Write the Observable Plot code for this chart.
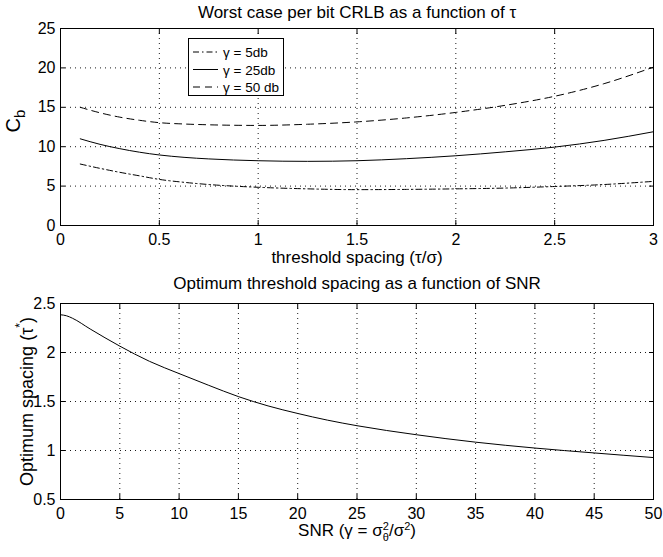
<!DOCTYPE html>
<html>
<head>
<meta charset="utf-8">
<script src="https://cdn.jsdelivr.net/npm/d3@7"></script>
<script src="https://cdn.jsdelivr.net/npm/@observablehq/plot@0.6"></script>
<style>
  body { margin: 0; background: #fff; }
  #wrap { position: relative; width: 663px; }
  #wrap > svg { display: block; }
</style>
</head>
<body>
<div id="wrap"></div>
<script>
// ---------- data ----------
const tau   = [0.1, 0.2, 0.3, 0.4, 0.5, 0.625, 0.75, 1.0, 1.25, 1.5, 1.75, 2.0, 2.25, 2.5, 2.75, 3.0];
const cb5   = [7.8, 7.25, 6.75, 6.3, 5.85, 5.48, 5.2, 4.85, 4.65, 4.55, 4.58, 4.65, 4.75, 4.95, 5.2, 5.6];
const cb25  = [11.0, 10.3, 9.75, 9.3, 8.95, 8.65, 8.45, 8.22, 8.14, 8.22, 8.48, 8.85, 9.35, 9.95, 10.8, 11.9];
const cb50  = [15.0, 14.3, 13.75, 13.35, 13.05, 12.88, 12.78, 12.7, 12.85, 13.15, 13.65, 14.35, 15.25, 16.4, 18.0, 20.1];
const seriesNames = ["γ = 5db", "γ = 25db", "γ = 50 db"];

const snr    = [0, 0.5, 1, 2.5, 5, 7.5, 10, 12.5, 15, 17.5, 20, 22.5, 25, 30, 35, 40, 45, 50];
const tauOpt = [2.385, 2.375, 2.35, 2.24, 2.065, 1.91, 1.785, 1.665, 1.55, 1.455, 1.378, 1.31, 1.253, 1.161, 1.085, 1.025, 0.975, 0.928];

const xTicksTop = [0, 0.5, 1, 1.5, 2, 2.5, 3];
const yTicksTop = [0, 5, 10, 15, 20, 25];
const xTicksBot = [0, 5, 10, 15, 20, 25, 30, 35, 40, 45, 50];
const yTicksBot = [0.5, 1, 1.5, 2, 2.5];

const titleTop = "Worst case per bit CRLB as a function of τ";
const xLabelTop = "threshold spacing (τ/σ)";
const yLabelTop = "C_b";
const titleBot = "Optimum threshold spacing as a function of SNR";
const xLabelBot = "SNR_LABEL";
const yLabelBot = "OPT_LABEL";

// ---------- styles ----------
const FONT = '"Liberation Sans", Arial, Helvetica, sans-serif';
const dashes = ["6,3,1.5,3", null, "7,5"];
const gridStyle = {stroke: "black", strokeOpacity: 0.9, strokeWidth: 1, strokeDasharray: "1,4"};

const rows = [cb5, cb25, cb50].map((vals, k) => tau.map((t, i) => ({x: t, y: vals[i], s: seriesNames[k]})));

function commonAxes(xt, yt) {
  return [
    Plot.frame({stroke: "black"}),
    Plot.axisX(xt, {anchor: "bottom", tickSize: -5, tickPadding: 13, fontSize: 16, label: null, tickFormat: d => String(d)}),
    Plot.axisX(xt, {anchor: "top", tickSize: -5, fill: "none", label: null}),
    Plot.axisY(yt, {anchor: "left", tickSize: -5, tickPadding: 10, fontSize: 16, label: null, tickFormat: d => String(d)}),
    Plot.axisY(yt, {anchor: "right", tickSize: -5, fill: "none", label: null})
  ];
}

const chartTop = Plot.plot({
  width: 663, height: 270,
  marginLeft: 60, marginRight: 10, marginTop: 28, marginBottom: 45,
  style: {fontFamily: FONT, background: "white", color: "black"},
  x: {domain: [0, 3]},
  y: {domain: [0, 25]},
  marks: [
    Plot.gridX(xTicksTop, gridStyle),
    Plot.gridY(yTicksTop, gridStyle),
    ...rows.map((r, k) => Plot.line(r, {x: "x", y: "y", stroke: "black", strokeWidth: 1, strokeDasharray: dashes[k], curve: "monotone-x"})),
    ...commonAxes(xTicksTop, yTicksTop),
    Plot.text([titleTop], {text: d => d, frameAnchor: "top", dy: -11, lineAnchor: "bottom", fontSize: 17}),
    Plot.text([xLabelTop], {text: d => d, frameAnchor: "bottom", dy: 37, lineAnchor: "bottom", fontSize: 17}),
    Plot.text([yLabelTop], {text: d => d, frameAnchor: "left", textAnchor: "middle", dx: -41, dy: -6, rotate: -90, lineAnchor: "bottom", fontSize: 20})
  ]
});

const botRows = snr.map((s, i) => ({x: s, y: tauOpt[i]}));
const chartBot = Plot.plot({
  width: 663, height: 287,
  marginLeft: 60, marginRight: 10, marginTop: 33, marginBottom: 58,
  style: {fontFamily: FONT, background: "white", color: "black"},
  x: {domain: [0, 50]},
  y: {domain: [0.5, 2.5]},
  marks: [
    Plot.gridX(xTicksBot, gridStyle),
    Plot.gridY(yTicksBot, gridStyle),
    Plot.line(botRows, {x: "x", y: "y", stroke: "black", strokeWidth: 1, curve: "monotone-x"}),
    ...commonAxes(xTicksBot, yTicksBot),
    Plot.text([titleBot], {text: d => d, frameAnchor: "top", dy: -15, lineAnchor: "bottom", fontSize: 17}),
    Plot.text([xLabelBot], {text: d => d, frameAnchor: "bottom", dy: 36, lineAnchor: "bottom", fontSize: 17}),
    Plot.text([yLabelBot], {text: d => d, frameAnchor: "left", textAnchor: "middle", dx: -28, rotate: -90, lineAnchor: "bottom", fontSize: 18})
  ]
});

const wrap = document.getElementById("wrap");
wrap.appendChild(chartTop);
wrap.appendChild(chartBot);

// ---------- rich text (sub/superscripts) ----------
function rich(svg, placeholder, parts) {
  d3.select(svg).selectAll("text").filter(function () { return this.textContent === placeholder; })
    .each(function () {
      const t = d3.select(this);
      t.text(null);
      parts.forEach(p => {
        const ts = t.append("tspan").text(p.t);
        if (p.dx != null) ts.attr("dx", p.dx);
        if (p.dy != null) ts.attr("dy", p.dy);
        if (p.size) ts.attr("font-size", p.size);
      });
    });
}
rich(chartTop, "C_b", [{t: "C"}, {t: "b", dy: 5, size: 15}]);
rich(chartBot, "OPT_LABEL", [{t: "Optimum spacing (τ"}, {t: "*", dy: -9, size: 12}, {t: ")", dy: 9}]);
rich(chartBot, "SNR_LABEL", [
  {t: "SNR (γ = σ"},
  {t: "θ", dy: 5, size: 11},
  {t: "2", dx: -6, dy: -11, size: 11},
  {t: "/σ", dy: 6},
  {t: "2", dy: -6, size: 11},
  {t: ")", dy: 6}
]);

// ---------- legend ----------
const lg = d3.select(wrap).append("svg")
  .attr("width", 97).attr("height", 59)
  .style("position", "absolute").style("left", "188px").style("top", "38px")
  .style("font-family", FONT);
lg.append("rect").attr("x", 0.5).attr("y", 0.5).attr("width", 95).attr("height", 57)
  .attr("fill", "white").attr("stroke", "black");
seriesNames.forEach((name, k) => {
  const yy = 14 + k * 17.5;
  lg.append("line").attr("x1", 5).attr("x2", 30).attr("y1", yy).attr("y2", yy)
    .attr("stroke", "black").attr("stroke-width", 1)
    .attr("stroke-dasharray", dashes[k]);
  lg.append("text").attr("x", 35).attr("y", yy + 5).attr("font-size", 13.5).text(name);
});
</script>
</body>
</html>
